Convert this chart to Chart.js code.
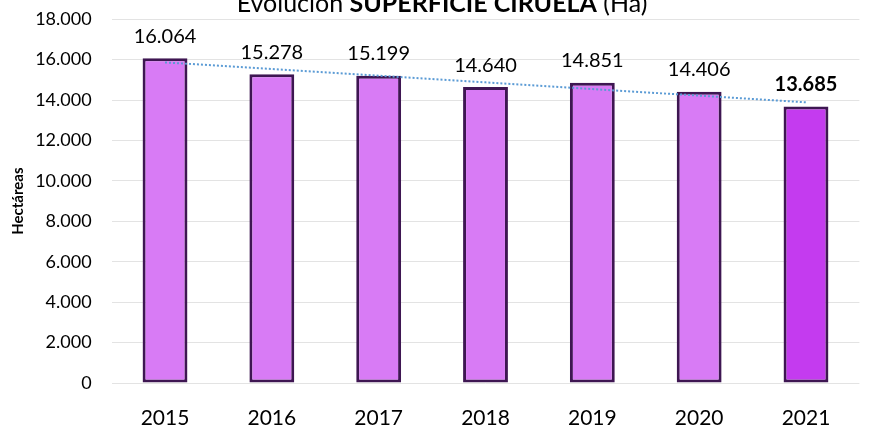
<!DOCTYPE html>
<html><head><meta charset="utf-8">
<script src="https://cdn.jsdelivr.net/npm/chart.js@4.4.1/dist/chart.umd.min.js"></script>
<style>html,body{margin:0;padding:0;background:#fff}#w{width:881px;height:428px}</style>
</head><body><div id="w"><canvas id="c"></canvas></div>
<script>
const categories = ['2015','2016','2017','2018','2019','2020','2021'];
const superficie = [16064,15278,15199,14640,14851,14406,13685];
const yTicks = [0,2000,4000,6000,8000,10000,12000,14000,16000,18000];
const titleNormal1 = 'Evolución ';
const titleBold = 'SUPERFICIE CIRUELA';
const titleNormal2 = ' (Ha)';
const yTitle = 'Hectáreas';

// linear trendline (least squares) of the series, as Excel does
function linearTrend(vals){
  const n = vals.length; let sx=0,sy=0,sxy=0,sxx=0;
  vals.forEach((v,i)=>{sx+=i;sy+=v;sxy+=i*v;sxx+=i*i;});
  const b=(n*sxy-sx*sy)/(n*sxx-sx*sx), a=(sy-b*sx)/n;
  return vals.map((_,i)=>a+b*i);
}
const trend = linearTrend(superficie);
const fmt = v => Math.round(v).toString().replace(/\B(?=(\d{3})+(?!\d))/g,'.');
const FONT = 'Lato, "Open Sans", sans-serif';
const last = superficie.length-1;

const labelsPlugin = {
  id:'vlabels',
  afterDatasetsDraw(chart){
    const ctx=chart.ctx; const meta=chart.getDatasetMeta(1);
    ctx.save(); ctx.fillStyle='#000'; ctx.textAlign='center'; ctx.textBaseline='middle';
    meta.data.forEach((bar,i)=>{
      ctx.font=(i===last?'bold ':'')+'20px '+FONT;
      ctx.fillText(fmt(superficie[i]), bar.x, bar.y-22);
    });
    ctx.restore();
  }
};
const titlePlugin = {
  id:'mtitle',
  afterDraw(chart){
    const ctx=chart.ctx; ctx.save(); ctx.fillStyle='#000'; ctx.textBaseline='alphabetic';
    const fn='25px '+FONT, fb='bold 25px '+FONT;
    ctx.font=fn; const w1=ctx.measureText(titleNormal1).width, w3=ctx.measureText(titleNormal2).width;
    ctx.font=fb; const w2=ctx.measureText(titleBold).width;
    let x=442-(w1+w2+w3)/2; const y=12;
    ctx.textAlign='left';
    ctx.font=fn; ctx.fillText(titleNormal1,x,y); x+=w1;
    ctx.font=fb; ctx.fillText(titleBold,x,y); x+=w2;
    ctx.font=fn; ctx.fillText(titleNormal2,x,y);
    // vertical axis title
    const ca=chart.chartArea;
    ctx.translate(18,(ca.top+ca.bottom)/2);
    ctx.rotate(-Math.PI/2);
    ctx.textAlign='center'; ctx.textBaseline='middle';
    ctx.font='bold 15px '+FONT;
    ctx.fillText(yTitle,0,0);
    ctx.restore();
  }
};

new Chart(document.getElementById('c'),{
  data:{
    labels:categories,
    datasets:[
      {type:'line',data:trend,borderColor:'#5B9BD5',borderWidth:2,borderDash:[2,2],pointRadius:0,fill:false,tension:0,order:0},
      {type:'bar',data:superficie,
        backgroundColor:superficie.map((_,i)=>i===last?'#C43BEF':'#D87BF5'),
        borderColor:'#3E1652',borderWidth:3,borderSkipped:false,
        categoryPercentage:1,barPercentage:0.42,order:1}
    ]
  },
  options:{
    responsive:true,maintainAspectRatio:false,animation:false,
    layout:{padding:{left:5,right:21.6,top:19.2,bottom:0}},
    plugins:{legend:{display:false},tooltip:{enabled:false}},
    scales:{
      x:{grid:{display:false,drawTicks:false},border:{display:false},
        ticks:{color:'#000',font:{family:FONT,size:21},padding:23},
        afterFit(s){s.height=428-383;s.paddingLeft=0;s.paddingRight=0;}},
      y:{min:0,max:18000,
        afterBuildTicks(s){s.ticks=yTicks.map(v=>({value:v}));},
        grid:{color:'#E3E3E3',lineWidth:1,drawTicks:false},border:{display:false},
        ticks:{color:'#000',font:{family:FONT,size:18},padding:20,callback:v=>fmt(v)},
        afterFit(s){s.width=111.6-5;s.paddingTop=0;s.paddingBottom=0;}}
    }
  },
  plugins:[labelsPlugin,titlePlugin]
});
</script></body></html>
